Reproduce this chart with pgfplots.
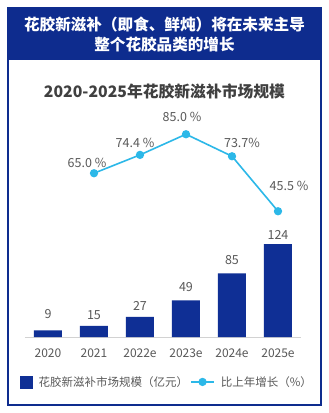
\documentclass[border=0pt]{standalone}
\usepackage{pgfplots}
\pgfplotsset{compat=1.18}
\usepackage{fontspec}
\setmainfont{Noto Sans CJK SC}
\definecolor{navy}{HTML}{0E2C8E}
\definecolor{barblue}{HTML}{0F2F95}
\definecolor{cyanl}{HTML}{2CB8E8}
\definecolor{txt}{HTML}{595959}
\definecolor{ttl}{HTML}{404040}
\begin{document}
\begin{tikzpicture}[x=1pt,y=1pt]
\useasboundingbox (0,0) rectangle (329,413);
\fill[white] (0,0) rectangle (329,413);
\fill[navy] (8,353) rectangle (321,405);
\draw[navy, line width=1.8pt] (8,8) rectangle (321,405);
\node[white,font=\fontsize{15.6}{19}\selectfont\bfseries] at (164.5,388) {花胶新滋补（即食、鲜炖）将在未来主导};
\node[white,font=\fontsize{15.6}{19}\selectfont\bfseries] at (164.5,368) {整个花胶品类的增长};
\node[ttl,font=\fontsize{15.8}{18}\selectfont\bfseries] at (164.5,322) {2020-2025年花胶新滋补市场规模};
\begin{axis}[at={(25pt,76pt)}, anchor=south west, scale only axis,
  width=276pt, height=210pt, xmin=-0.5, xmax=5.5, ymin=0, ymax=280,
  axis lines=left, axis line style={-}, y axis line style={draw=none},
  x axis line style={draw=gray!35, line width=0.8pt},
  ytick=\empty, xtick={0,...,5},
  xticklabels={2020,2021,2022e,2023e,2024e,2025e},
  major tick length=0pt,
  xticklabel style={font=\fontsize{12}{14}\selectfont, text=txt, yshift=-8pt},
  /pgf/number format/assume math mode=true,
  clip=false]
\addplot[ybar, bar width=28pt, fill=barblue, draw=none,
  nodes near coords,
  point meta=explicit symbolic,
  visualization depends on={\thisrow{dy}\as\dy},
  every node near coord/.append style={font=\fontsize{12.5}{14}\selectfont, text=txt, anchor=center, yshift=\dy pt}]
  table[x=x, y=y, meta=lab] {
  x y lab dy
  0 9 9 16
  1 15 15 11
  2 27 27 11
  3 49 49 13
  4 85 85 13
  5 124 124 9
  };
\end{axis}
\begin{axis}[at={(25pt,76pt)}, anchor=south west, scale only axis,
  width=276pt, height=210pt, xmin=-0.5, xmax=5.5, ymin=-19, ymax=88.7,
  hide axis, clip=false,
  legend columns=2,
  legend style={draw=none, fill=none, at={(0.515,-0.214)}, anchor=center,
    font=\fontsize{11.5}{13}\selectfont, text=txt,
    /tikz/every odd column/.append style={column sep=4pt},
    /tikz/every even column/.append style={column sep=0pt},
    /tikz/column 1/.append style={column sep=10pt}},
  legend cell align=left]
\addlegendimage{legend image code/.code={\fill[barblue] (0pt,-6pt) rectangle (12pt,6pt);}}
\addlegendentry{花胶新滋补市场规模（亿元）}
\addplot[cyanl, line width=1.6pt, mark=*, mark size=3.3pt,
  nodes near coords,
  point meta=explicit symbolic,
  visualization depends on={\thisrow{dx}\as\dx},
  visualization depends on={\thisrow{dy}\as\ddy},
  every node near coord/.append style={font=\fontsize{12.5}{14}\selectfont, text=txt, anchor=center, xshift=\dx pt, yshift=\ddy pt},
  legend image code/.code={\draw[cyanl, line width=1.6pt] (0pt,0pt) -- (23pt,0pt); \fill[cyanl] (11.5pt,0pt) circle (3.3pt);}]
  table[x=x, y=y, meta=lab, col sep=comma] {
  x,y,lab,dx,dy
  1,65.0,65.0 \%,-7,10
  2,74.4,74.4 \%,-5,12
  3,85.0,85.0 \%,-4,17
  4,73.7,73.7\%,10,13
  5,45.5,45.5 \%,11,25
  };
\addlegendentry{比上年增长（\%）}
\end{axis}
\end{tikzpicture}
\end{document}
